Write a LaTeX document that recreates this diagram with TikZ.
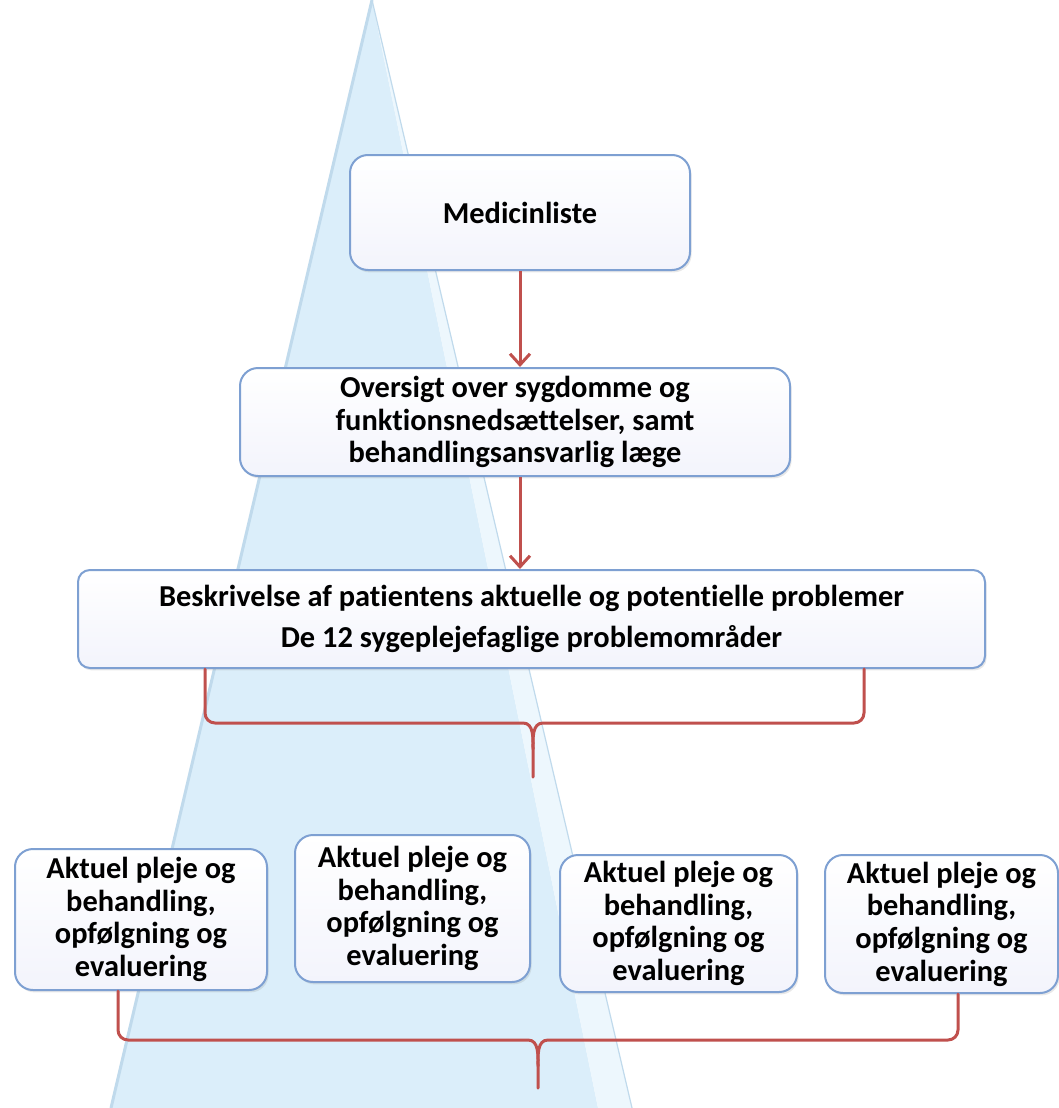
\documentclass[tikz,border=0pt]{standalone}
\usepackage{fontspec}
\setmainfont{Carlito}[Ligatures=NoCommon]
\usetikzlibrary{
  arrows.meta,
  shadows
}
\definecolor{ConeBlue}{RGB}{219,238,250}
\definecolor{ConeLight}{RGB}{237,247,253}
\definecolor{ConeEdge}{RGB}{192,218,236}
\definecolor{BoxLine}{RGB}{126,160,210}
\definecolor{BoxBottom}{RGB}{243,244,252}
\definecolor{LinkRed}{RGB}{192,80,77}
\tikzset{
  stepbox/.style={draw=BoxLine,line width=1pt,top color=white,bottom color=BoxBottom,rounded corners=9pt,align=center,inner sep=0pt,font=\bfseries\fontsize{15.2}{16.3}\selectfont,drop shadow={opacity=0.18,shadow xshift=0.8pt,shadow yshift=-1.2pt}},
  carebox/.style={stepbox,minimum width=117pt,minimum height=69pt},
  linkarrow/.style={-{Straight Barb[length=5.5pt,width=10pt]},line width=1.5pt,draw=LinkRed},
  bracket/.style={line width=1.5pt,draw=LinkRed,line cap=round}
}

\begin{document}
\begin{tikzpicture}[x=0.5pt,y=-0.5pt]
\useasboundingbox (0,0) rectangle (1059,1108);
\fill[white] (0,0) rectangle (1059,1108);

% cone behind the boxes
\fill[ConeBlue] (372,0) -- (110,1108) -- (598,1108) -- cycle;
\fill[ConeLight] (372,0) -- (598,1108) -- (632,1108) -- cycle;
\draw[ConeEdge,line width=0.6pt] (372,0) -- (632,1108);
\draw[ConeEdge,line width=1.5pt] (372,0) -- (111,1108);

% top chain
\node[stepbox,minimum width=170pt,minimum height=57.5pt] (med) at (520,212.5) {Medicinliste};
\node[stepbox,minimum width=275pt,minimum height=54pt] (over) at (515,422)
  {Oversigt over sygdomme og\\funktionsnedsættelser, samt\\behandlingsansvarlig læge};
\node[stepbox,minimum width=453.5pt,minimum height=49pt,rounded corners=6pt] (desc) at (531.5,619)
  {Beskrivelse af patientens aktuelle og potentielle problemer\\[4pt]De 12 sygeplejefaglige problemområder};

\draw[linkarrow] (med.south) -- (med.south |- over.north);
\draw[linkarrow] (med.south |- over.south) -- (med.south |- desc.north);

% first bracket
\coordinate (b1left) at (205,723);
\coordinate (b1right) at (864,723);
\coordinate (b1tip) at (533,777);
\draw[bracket] (b1left |- desc.south) -- ([yshift=5pt]b1left) to[out=-90,in=180] ([xshift=5pt]b1left)
  -- ([xshift=-5pt]b1tip |- b1left) to[out=0,in=90] ([yshift=-13pt]b1tip |- b1left) -- (b1tip);
\draw[bracket] (b1right |- desc.south) -- ([yshift=5pt]b1right) to[out=-90,in=0] ([xshift=-5pt]b1right)
  -- ([xshift=5pt]b1tip |- b1right) to[out=180,in=90] ([yshift=-13pt]b1tip |- b1right);

% bottom row
\node[carebox,minimum width=126pt,minimum height=70.5pt] (careA) at (141,919.5)
  {Aktuel pleje og\\behandling,\\opfølgning og\\evaluering};
\node[carebox,minimum width=117.5pt,minimum height=73.5pt] (careB) at (412.5,908.5)
  {Aktuel pleje og\\behandling,\\opfølgning og\\evaluering};
\node[carebox,minimum width=118.5pt,minimum height=68.5pt] (careC) at (678.5,923.5)
  {Aktuel pleje og\\behandling,\\opfølgning og\\evaluering};
\node[carebox,minimum width=116.5pt,minimum height=69pt] (careD) at (941.5,924)
  {Aktuel pleje og\\behandling,\\opfølgning og\\evaluering};

% second bracket
\coordinate (b2left) at (118,1040);
\coordinate (b2right) at (958,1040);
\coordinate (b2tip) at (538,1088);
\draw[bracket] (b2left |- careA.south) -- ([yshift=5pt]b2left) to[out=-90,in=180] ([xshift=5pt]b2left)
  -- ([xshift=-5pt]b2tip |- b2left) to[out=0,in=90] ([yshift=-13pt]b2tip |- b2left) -- (b2tip);
\draw[bracket] (b2right |- careD.south) -- ([yshift=5pt]b2right) to[out=-90,in=0] ([xshift=-5pt]b2right)
  -- ([xshift=5pt]b2tip |- b2right) to[out=180,in=90] ([yshift=-13pt]b2tip |- b2right);
\end{tikzpicture}
\end{document}
